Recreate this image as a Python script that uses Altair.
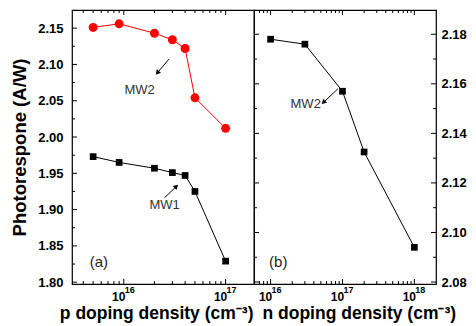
import altair as alt
import pandas as pd

# ---------------- data ----------------
# panel (a): p doping density
p_dens = [5e15, 9e15, 2e16, 3e16, 4e16, 5e16, 1e17]
p_mw2 = [2.151, 2.156, 2.143, 2.134, 2.122, 2.054, 2.012]
p_mw1 = [1.973, 1.965, 1.957, 1.951, 1.947, 1.925, 1.829]

# panel (b): n doping density
n_dens = [1e16, 3e16, 1e17, 2e17, 1e18]
n_mw2 = [2.178, 2.176, 2.157, 2.1325, 2.094]

# axis tick values / labels
a_y_major = [1.80, 1.85, 1.90, 1.95, 2.00, 2.05, 2.10, 2.15]
a_y_minor = [1.825, 1.875, 1.925, 1.975, 2.025, 2.075, 2.125]
a_x_major = [1e16, 1e17]
a_x_exp = ["16", "17"]
a_x_minor = [4e15, 5e15, 6e15, 7e15, 8e15, 9e15,
             2e16, 3e16, 4e16, 5e16, 6e16, 7e16, 8e16, 9e16]
b_y_major = [2.08, 2.10, 2.12, 2.14, 2.16, 2.18]
b_y_minor = [2.09, 2.11, 2.13, 2.15, 2.17]
b_x_major = [1e16, 1e17, 1e18]
b_x_exp = ["16", "17", "18"]
b_x_minor = [7e15, 8e15, 9e15,
             2e16, 3e16, 4e16, 5e16, 6e16, 7e16, 8e16, 9e16,
             2e17, 3e17, 4e17, 5e17, 6e17, 7e17, 8e17, 9e17]

# annotations (data coordinates)
a_text = ["MW2", "MW1"]
a_text_x = [1.43e16, 2.52e16]
a_text_y = [2.0644, 1.9065]
a_arrow_x1 = [2.78e16, 2.52e16]
a_arrow_y1 = [2.1074, 1.9165]
a_arrow_x2 = [2.16e16, 3.24e16]
a_arrow_y2 = [2.0892, 1.9312]
a_arrow_ang = [220, 46]
b_text = ["MW2"]
b_text_x = [3.08e16]
b_text_y = [2.1519]
b_arrow_x1 = [8.65e16]
b_arrow_y1 = [2.158]
b_arrow_x2 = [5.53e16]
b_arrow_y2 = [2.1527]
b_arrow_ang = [226]
panel_lbl_a = ("(a)", 5.69e15, 1.8282)
panel_lbl_b = ("(b)", 1.28e16, 2.0881)

FONT = "Liberation Sans"
W, H = 182, 274
RED = "#ff0000"
MAJ, MIN = 5, 3


def y_ticks(vals, scale, axis, side, length):
    df = pd.DataFrame({"v": vals})
    if side == "left":
        xx = dict(x=alt.value(0), x2=alt.value(length))
    else:
        xx = dict(x=alt.value(W - length), x2=alt.value(W))
    return alt.Chart(df).mark_rule(color="black", strokeWidth=1).encode(
        y=alt.Y("v:Q", scale=scale, axis=axis), **xx)


def x_ticks(vals, scale, axis, side, length):
    df = pd.DataFrame({"v": vals})
    if side == "bottom":
        yy = dict(y=alt.value(H - length), y2=alt.value(H))
    else:
        yy = dict(y=alt.value(0), y2=alt.value(length))
    return alt.Chart(df).mark_rule(color="black", strokeWidth=1).encode(
        x=alt.X("v:Q", scale=scale, axis=axis), **yy)


def exponents(vals, exps, scale, axis):
    df = pd.DataFrame({"v": vals, "e": exps})
    return alt.Chart(df).mark_text(font=FONT, fontSize=9, fontWeight="bold",
                                   color="black", align="left", baseline="alphabetic",
                                   dx=1).encode(
        x=alt.X("v:Q", scale=scale, axis=axis), y=alt.value(H + 8.5), text="e:N")


def annotations(xs, ys, texts, ax1, ay1, ax2, ay2, ang, lbl, xsc, ysc, xax, yax):
    tdf = pd.DataFrame({"x": xs, "y": ys, "t": texts})
    adf = pd.DataFrame({"x1": ax1, "y1": ay1, "x2": ax2, "y2": ay2, "a": ang})
    ldf = pd.DataFrame({"x": [lbl[1]], "y": [lbl[2]], "t": [lbl[0]]})
    txt = alt.Chart(tdf).mark_text(font=FONT, fontSize=13, color="#333333").encode(
        x=alt.X("x:Q", scale=xsc, axis=xax), y=alt.Y("y:Q", scale=ysc, axis=yax), text="t:N")
    shaft = alt.Chart(adf).mark_rule(color="black", strokeWidth=1).encode(
        x=alt.X("x1:Q", scale=xsc, axis=xax), y=alt.Y("y1:Q", scale=ysc, axis=yax),
        x2="x2:Q", y2="y2:Q")
    head = alt.Chart(adf).mark_point(shape="triangle", filled=True, size=30,
                                     color="black", opacity=1).encode(
        x=alt.X("x2:Q", scale=xsc, axis=xax), y=alt.Y("y2:Q", scale=ysc, axis=yax),
        angle=alt.Angle("a:Q", scale=None))
    plbl = alt.Chart(ldf).mark_text(font=FONT, fontSize=15, color="#222222").encode(
        x=alt.X("x:Q", scale=xsc, axis=xax), y=alt.Y("y:Q", scale=ysc, axis=yax), text="t:N")
    return [shaft, head, txt, plbl]


def x_axis(vals, title, tx, talign):
    return alt.Axis(values=vals, labelExpr="'10'", labelFontSize=12, labelOffset=-5.5,
                    labelBaseline="alphabetic", labelPadding=16,
                    title=title, titleFontSize=17.5, titleBaseline="alphabetic",
                    titleY=34, titleX=tx, titleAlign=talign,
                    ticks=False, domain=False, grid=False)


# ---------------- panel (a) ----------------
xa = alt.Scale(type="log", domain=[3.1e15, 1.9e17], nice=False)
ya = alt.Scale(domain=[1.7975, 2.175], zero=False, nice=False)
axa = x_axis(a_x_major, "p doping density (cm⁻³)", W - 1, "right")
aya = alt.Axis(values=a_y_major, format=".2f", title="Photorespone (A/W)",
               titleFontSize=18.5, ticks=False, domain=False, grid=False,
               labelPadding=9, titlePadding=8)

dfa = pd.DataFrame({"d": p_dens, "mw2": p_mw2, "mw1": p_mw1})
base_a = alt.Chart(dfa).encode(x=alt.X("d:Q", scale=xa, axis=axa))
red_line = base_a.mark_line(color=RED, strokeWidth=1).encode(
    y=alt.Y("mw2:Q", scale=ya, axis=aya))
red_pts = base_a.mark_point(shape="circle", filled=True, size=80, color=RED,
                            opacity=1).encode(y=alt.Y("mw2:Q", scale=ya, axis=aya))
blk_line = base_a.mark_line(color="black", strokeWidth=1).encode(
    y=alt.Y("mw1:Q", scale=ya, axis=aya))
blk_pts = base_a.mark_point(shape="square", filled=True, size=45, color="black",
                            opacity=1).encode(y=alt.Y("mw1:Q", scale=ya, axis=aya))

left = alt.layer(
    red_line, red_pts, blk_line, blk_pts,
    y_ticks(a_y_major, ya, aya, "left", MAJ), y_ticks(a_y_minor, ya, aya, "left", MIN),
    x_ticks(a_x_major, xa, axa, "bottom", MAJ), x_ticks(a_x_minor, xa, axa, "bottom", MIN),
    x_ticks(a_x_major, xa, axa, "top", MAJ), x_ticks(a_x_minor, xa, axa, "top", MIN),
    exponents(a_x_major, a_x_exp, xa, axa),
    *annotations(a_text_x, a_text_y, a_text, a_arrow_x1, a_arrow_y1, a_arrow_x2,
                 a_arrow_y2, a_arrow_ang, panel_lbl_a, xa, ya, axa, aya),
).properties(width=W, height=H)

# ---------------- panel (b) ----------------
xb = alt.Scale(type="log", domain=[5.88e15, 2.0e18], nice=False)
yb = alt.Scale(domain=[2.0792, 2.1898], zero=False, nice=False)
axb = x_axis(b_x_major, "n doping density (cm⁻³)", 8, "left")
ayb = alt.Axis(orient="right", values=b_y_major, format=".2f", title=None,
               ticks=False, domain=False, grid=False, labelPadding=5)

dfb = pd.DataFrame({"d": n_dens, "mw2": n_mw2})
base_b = alt.Chart(dfb).encode(x=alt.X("d:Q", scale=xb, axis=axb))
b_line = base_b.mark_line(color="black", strokeWidth=1).encode(
    y=alt.Y("mw2:Q", scale=yb, axis=ayb))
b_pts = base_b.mark_point(shape="square", filled=True, size=45, color="black",
                          opacity=1).encode(y=alt.Y("mw2:Q", scale=yb, axis=ayb))

right = alt.layer(
    b_line, b_pts,
    y_ticks(b_y_major, yb, ayb, "right", MAJ), y_ticks(b_y_minor, yb, ayb, "right", MIN),
    y_ticks(b_y_major, yb, ayb, "left", MAJ), y_ticks(b_y_minor, yb, ayb, "left", MIN),
    x_ticks(b_x_major, xb, axb, "bottom", MAJ), x_ticks(b_x_minor, xb, axb, "bottom", MIN),
    x_ticks(b_x_major, xb, axb, "top", MAJ), x_ticks(b_x_minor, xb, axb, "top", MIN),
    exponents(b_x_major, b_x_exp, xb, axb),
    *annotations(b_text_x, b_text_y, b_text, b_arrow_x1, b_arrow_y1, b_arrow_x2,
                 b_arrow_y2, b_arrow_ang, panel_lbl_b, xb, yb, axb, ayb),
).properties(width=W, height=H)

chart = alt.hconcat(left, right, spacing=0, bounds="flush").resolve_scale(
    x="independent", y="independent"
).properties(
    padding={"left": 2, "top": 0, "right": 0, "bottom": 0}, background="white"
).configure_view(
    stroke="black", strokeWidth=1.2
).configure_axis(
    labelFont=FONT, titleFont=FONT, labelFontSize=13, labelFontWeight="bold",
    labelColor="black", titleFontSize=18, titleFontWeight="bold", titleColor="black"
)

chart.save("out.html", embed_options={"renderer": "svg", "actions": False})
